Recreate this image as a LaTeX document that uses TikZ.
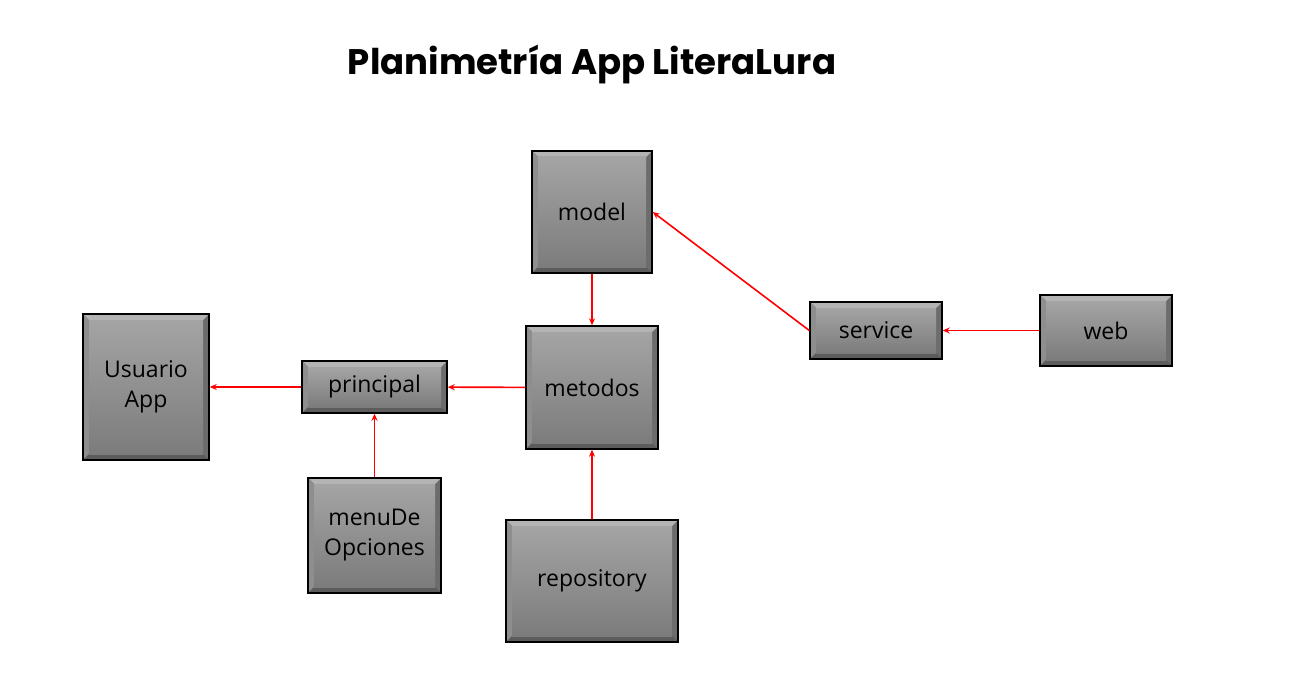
\documentclass[tikz,border=0pt]{standalone}
\usepackage{fontspec}
\setmainfont{Open Sans}
\newfontfamily\titlefont{Poppins}
\usetikzlibrary{arrows.meta}
\definecolor{bevtop}{HTML}{B4B4B4}
\definecolor{bevleft}{HTML}{8E8E8E}
\definecolor{bevright}{HTML}{6C6C6C}
\definecolor{bevbot}{HTML}{5C5C5C}
\definecolor{paneltop}{HTML}{A4A4A4}
\definecolor{panelbot}{HTML}{7C7C7C}
\tikzset{
  bevelbox/.style={draw=black, line width=1.4pt, fill=bevright, inner sep=0pt,
    font=\fontsize{23}{30}\selectfont, align=center, text=black,
    path picture={
      \coordinate (nw) at (path picture bounding box.north west);
      \coordinate (se) at (path picture bounding box.south east);
      \coordinate (ne) at (path picture bounding box.north east);
      \coordinate (sw) at (path picture bounding box.south west);
      \fill[bevtop] (nw) -- (ne) -- ([shift={(-6,6)}]ne) -- ([shift={(6,6)}]nw) -- cycle;
      \fill[bevleft] (nw) -- ([shift={(6,6)}]nw) -- ([shift={(6,-6)}]sw) -- (sw) -- cycle;
      \fill[bevbot] (sw) -- ([shift={(6,-6)}]sw) -- ([shift={(-6,-6)}]se) -- (se) -- cycle;
      \shade[top color=paneltop, bottom color=panelbot] ([shift={(6,6)}]nw) rectangle ([shift={(-6,-6)}]se);
    }},
  link/.style={draw=red, line width=1.6pt, -{Stealth[length=7pt,width=6pt]}}
}
\begin{document}
\begin{tikzpicture}[x=1pt,y=-1pt]
\useasboundingbox (0,0) rectangle (1297,695);
\node[font=\titlefont\bfseries\fontsize{35.5}{40}\selectfont] (title) at (592,64) {Planimetría App LiteraLura};
\node[bevelbox, minimum width=120, minimum height=122] (model) at (592,212) {model};
\node[bevelbox, minimum width=126, minimum height=146] (usuario) at (146,387) {Usuario\\App};
\node[bevelbox, minimum width=145, minimum height=52] (principal) at (374.5,387) {principal};
\node[bevelbox, minimum width=132, minimum height=123] (metodos) at (592,387.5) {metodos};
\node[bevelbox, minimum width=132, minimum height=57] (service) at (876,330.5) {service};
\node[bevelbox, minimum width=132, minimum height=71] (web) at (1106,330.5) {web};
\node[bevelbox, minimum width=133, minimum height=115] (menu) at (374.5,535.5) {menuDe\\Opciones};
\node[bevelbox, minimum width=172, minimum height=122] (repository) at (592,581) {repository};
\draw[link] (model) -- (metodos);
\draw[link] (service.west) -- (model.east);
\draw[link] (web) -- (service);
\draw[link] (metodos) -- (principal);
\draw[link] (principal) -- (usuario);
\draw[link] (menu) -- (principal);
\draw[link] (repository) -- (metodos);
\end{tikzpicture}
\end{document}
